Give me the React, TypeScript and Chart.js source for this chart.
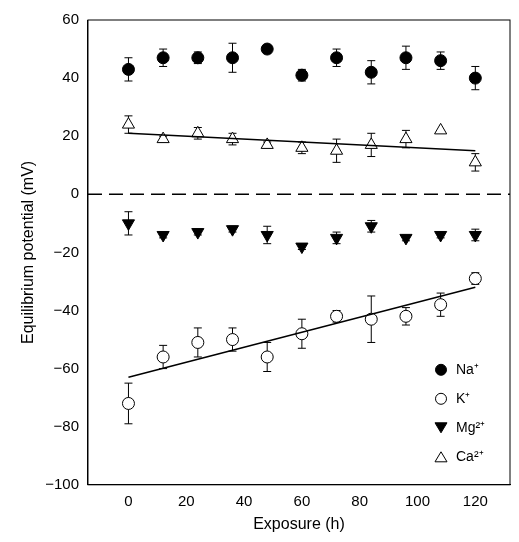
import { useEffect, useRef } from 'react';
import Chart from 'chart.js/auto';

const hours = [0, 12, 24, 36, 48, 60, 72, 84, 96, 108, 120];
const na = [43, 47, 47, 47, 50, 41, 47, 42, 47, 46, 40];
const naErr = [4, 3, 2, 5, 1, 2, 3, 4, 4, 3, 4];
const ca = [24, 19, 21, 19, 17, 16, 15, 17, 19, 22, 11];
const caErr = [3, 1, 2, 2, 1, 2, 4, 4, 3, 0, 3];
const mg = [-10, -14, -13, -12, -14, -18, -15, -11, -15, -14, -14];
const mgErr = [4, 1, 1, 1, 3, 1, 2, 2, 1, 1, 2];
const k = [-72, -56, -51, -50, -56, -48, -42, -43, -42, -38, -29];
const kErr = [7, 4, 5, 4, 5, 5, 2, 8, 3, 4, 2];
const caFit = [21, 15];
const kFit = [-63, -32];
const legendLabels = ['Na⁺', 'K⁺', 'Mg²⁺', 'Ca²⁺'];

const pts = (ys: number[]) => ys.map((y, i) => ({ x: hours[i], y }));
const FONT = 'Arial, "Liberation Sans"';

export default function App() {
  const canvasRef = useRef<HTMLCanvasElement | null>(null);
  const chartRef = useRef<Chart | null>(null);

  useEffect(() => {
    if (!canvasRef.current) return;
    chartRef.current?.destroy();

    const errs = [naErr, kErr, mgErr, caErr];
    const extras = {
      id: 'extras',
      beforeDatasetsDraw(c: any) {
        const { ctx, scales: { x, y }, chartArea: a } = c;
        ctx.save();
        ctx.strokeStyle = '#000';
        ctx.lineWidth = 1.5;
        ctx.setLineDash([14, 7]);
        ctx.beginPath();
        ctx.moveTo(a.left, y.getPixelForValue(0));
        ctx.lineTo(a.right, y.getPixelForValue(0));
        ctx.stroke();
        ctx.setLineDash([]);
        ctx.lineWidth = 1;
        [na, k, mg, ca].forEach((s, di) => {
          s.forEach((v, i) => {
            const e = errs[di][i];
            if (!e) return;
            const px = x.getPixelForValue(hours[i]);
            const t = y.getPixelForValue(v + e), b = y.getPixelForValue(v - e);
            ctx.beginPath();
            ctx.moveTo(px, t); ctx.lineTo(px, b);
            ctx.moveTo(px - 4, t); ctx.lineTo(px + 4, t);
            ctx.moveTo(px - 4, b); ctx.lineTo(px + 4, b);
            ctx.stroke();
          });
        });
        ctx.restore();
      },
      afterDraw(c: any) {
        const { ctx, chartArea: a } = c;
        ctx.save();
        ctx.strokeStyle = '#000';
        ctx.lineWidth = 1;
        ctx.strokeRect(a.left, a.top, a.right - a.left, a.bottom - a.top);
        ctx.font = '14px ' + FONT;
        ctx.textBaseline = 'middle';
        legendLabels.forEach((l, i) => {
          const lx = a.right - 69, ly = a.bottom - 115 + i * 29;
          ctx.beginPath();
          if (i < 2) {
            ctx.arc(lx, ly, 5.5, 0, Math.PI * 2);
          } else if (i === 2) {
            ctx.moveTo(lx - 6, ly - 5); ctx.lineTo(lx + 6, ly - 5); ctx.lineTo(lx, ly + 5); ctx.closePath();
          } else {
            ctx.moveTo(lx - 6, ly + 5); ctx.lineTo(lx + 6, ly + 5); ctx.lineTo(lx, ly - 5); ctx.closePath();
          }
          ctx.fillStyle = i === 0 || i === 2 ? '#000' : '#fff';
          ctx.fill(); ctx.stroke();
          ctx.fillStyle = '#000';
          ctx.fillText(l, lx + 15, ly);
        });
        ctx.restore();
      },
    };

    const mk = (label: string, data: number[], style: string, fill: boolean, rot = 0) => ({
      label, data: pts(data), showLine: false, pointStyle: style, rotation: rot,
      pointRadius: style === 'circle' ? 6 : 7, borderColor: '#000', borderWidth: 1,
      backgroundColor: fill ? '#000' : '#fff',
    });

    chartRef.current = new Chart(canvasRef.current, {
      type: 'scatter',
      data: {
        datasets: [
          { label: 'caFit', data: [{ x: 0, y: caFit[0] }, { x: 120, y: caFit[1] }], showLine: true, pointRadius: 0, borderColor: '#000', borderWidth: 1.5 },
          { label: 'kFit', data: [{ x: 0, y: kFit[0] }, { x: 120, y: kFit[1] }], showLine: true, pointRadius: 0, borderColor: '#000', borderWidth: 1.5 },
          mk('Na', na, 'circle', true),
          mk('K', k, 'circle', false),
          mk('Mg', mg, 'triangle', true, 180),
          mk('Ca', ca, 'triangle', false),
        ] as any,
      },
      options: {
        animation: false,
        responsive: false,
        plugins: { legend: { display: false }, tooltip: { enabled: false } },
        layout: { padding: { top: 0, right: 1, left: 11 } },
        scales: {
          x: {
            min: -14, max: 132,
            afterBuildTicks: (ax: any) => { ax.ticks = [0, 20, 40, 60, 80, 100, 120].map((v) => ({ value: v })); },
            grid: { display: false, drawTicks: true, tickLength: 6, color: '#000' },
            border: { color: '#000' },
            ticks: { color: '#000', padding: 2, font: { size: 15, family: FONT } },
            title: { display: true, text: 'Exposure (h)', color: '#000', padding: { top: 2, bottom: 0 }, font: { size: 16, family: FONT } },
          },
          y: {
            min: -100, max: 60,
            grid: { display: false, drawTicks: true, tickLength: 6, color: '#000' },
            border: { color: '#000' },
            ticks: { stepSize: 20, color: '#000', padding: 3, font: { size: 15, family: FONT }, callback: (v: any) => (v < 0 ? '\u2212' + Math.abs(v) : String(v)) },
            title: { display: true, text: 'Equilibrium potential (mV)', color: '#000', padding: { top: 0, bottom: 4 }, font: { size: 16, family: FONT } },
          },
        },
      },
      plugins: [extras],
    });

    return () => {
      chartRef.current?.destroy();
    };
  }, []);

  return (
    <div style={{ width: 510, height: 526 }}>
      <canvas ref={canvasRef} width={510} height={526} style={{ display: 'block' }} />
    </div>
  );
}
